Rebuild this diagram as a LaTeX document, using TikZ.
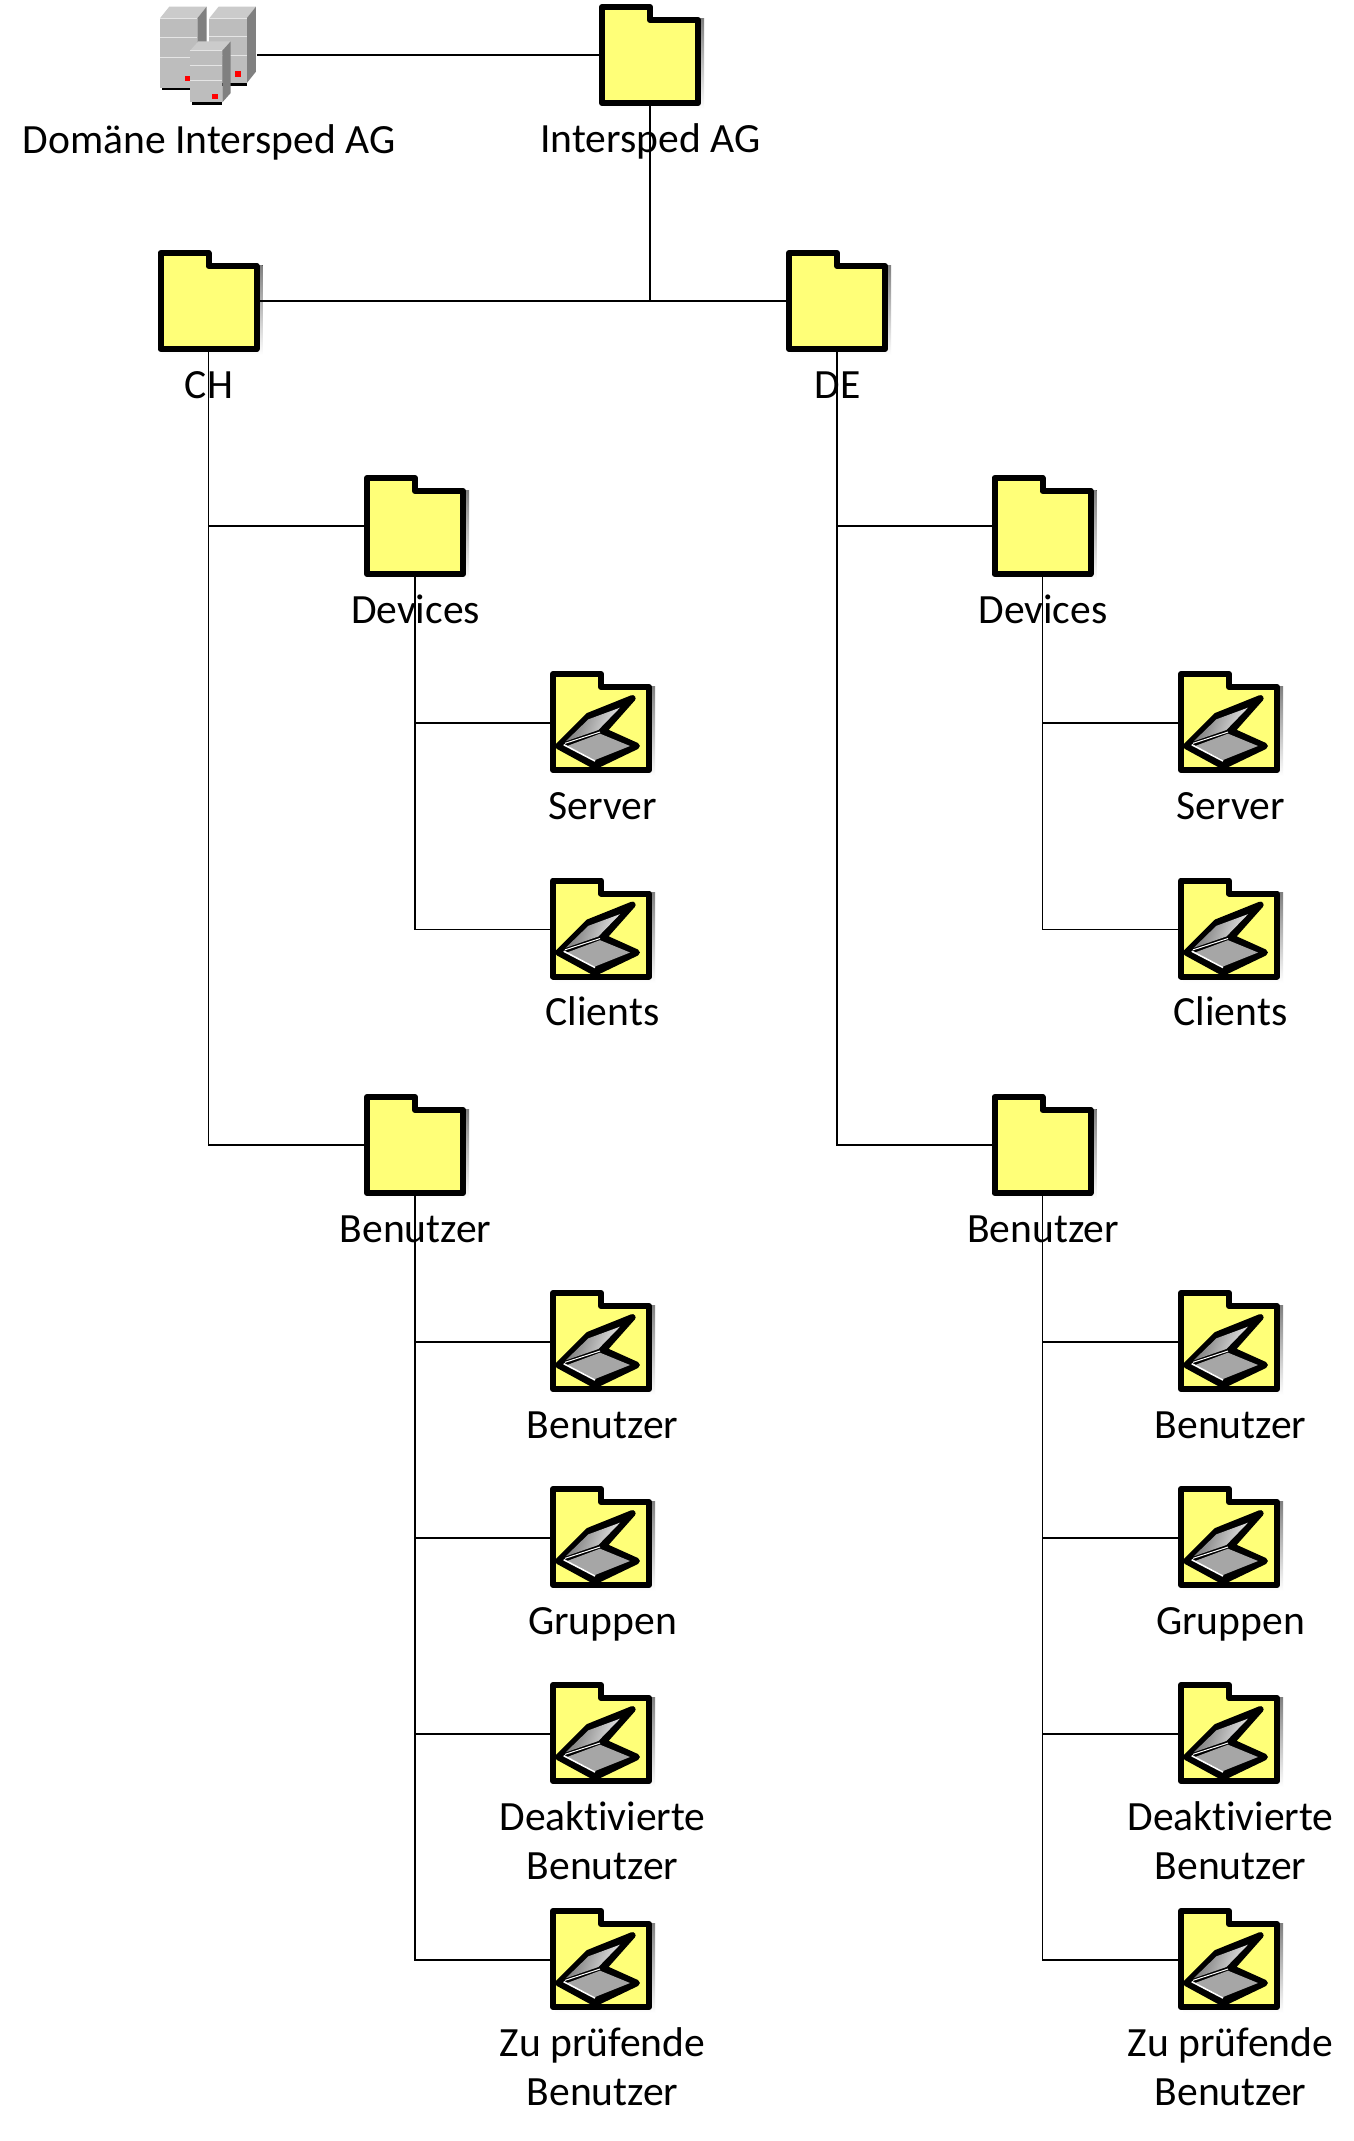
\documentclass[tikz,border=0pt]{standalone}
\usepackage{fontspec}
\setmainfont{Carlito}[RawFeature={-liga}]
\definecolor{fy}{HTML}{FFFF78}
\definecolor{shade}{HTML}{A8A8A8}
\definecolor{srvfront}{HTML}{BDBDBD}
\definecolor{srvtop}{HTML}{CBCBCB}
\definecolor{srvside}{HTML}{808080}
\definecolor{srvred}{HTML}{FF0000}
\tikzset{
  x=1pt,y=-1pt,
  conn/.style={draw=black,line width=1.7pt},
  spot/.style={minimum width=102pt,minimum height=102pt,inner sep=0pt,outer sep=0pt},
  srvspot/.style={minimum width=96pt,minimum height=103pt,inner sep=0pt,outer sep=0pt},
  lbl/.style={anchor=north,inner sep=0pt,outer sep=0pt,align=center,font=\fontsize{41.6}{49}\selectfont},
  folderpic/.pic={
    \fill[shade] (-46,-36) -- (54,-36) -- (54,54) -- (-46,54) -- cycle;
    \draw[fill=fy,line width=6pt,line join=round]
      (-48,-48) -- (0,-48) -- (0,-35) -- (48,-35) -- (48,48) -- (-48,48) -- cycle;
  },
  scanpic/.pic={
    \begin{scope}[shift={(-56,-56)},xscale=1/3,yscale=1/3]
      \draw[fill=black,line width=6.5pt,line join=round]
        (40,240) -- (150,300) -- (275,240) -- (175,195) -- (262,97) -- (130,150) -- cycle;
      \shade[left color=black!55,right color=black!8,shading angle=70]
        (62,226) -- (130,160) -- (225,125) -- (160,192) -- cycle;
      \fill[black!35] (66,240) -- (165,203) -- (255,240) -- (150,282) -- cycle;
      \draw[white,line width=1.6pt] (56,236) -- (150,285);
      \draw[white,line width=1pt] (60,232) -- (165,198);
    \end{scope}
  },
  serverbox/.pic={
    \begin{scope}[xscale=1/3,yscale=1/3]
      \fill[black] (7,\srvH-4) rectangle (\srvW,\srvH+7);
      \fill[srvtop] (0,0) -- (\srvD,-\srvR) -- (\srvW+\srvD,-\srvR) -- (\srvW,0) -- cycle;
      \fill[srvside] (\srvW,0) -- (\srvW+\srvD,-\srvR) -- (\srvW+\srvD,\srvH-\srvR) -- (\srvW,\srvH) -- cycle;
      \fill[srvfront] (0,0) rectangle (\srvW,\srvH);
      \draw[white!90!black,line width=1.2pt] (0,0) -- (\srvW,0);
      \draw[white!90!black,line width=1.2pt] (0,.28*\srvH) -- (\srvW,.28*\srvH);
      \draw[white!90!black,line width=1.2pt] (0,.57*\srvH) -- (\srvW,.57*\srvH);
      \fill[srvred] (\srvW-\srvRx,\srvH-\srvRy) rectangle ++(\srvRw,16);
    \end{scope}
  },
}
\newcommand\srvW{112}
\newcommand\srvH{210}
\newcommand\srvD{28}
\newcommand\srvR{35}
\newcommand\srvRx{36}
\newcommand\srvRy{36}
\newcommand\srvRw{20}
\newcommand\foldernode[4]{%
  \node[lbl] at (#2+.5,#3+63) {\strut #4};
  \pic at (#2,#3) {folderpic};
  \node[spot] (#1) at (#2,#3) {};
}
\newcommand\scannode[4]{%
  \node[lbl] at (#2+1.5,#3+62) {\strut #4};
  \pic at (#2,#3-1) {folderpic};
  \pic at (#2,#3-1) {scanpic};
  \node[spot] (#1) at (#2,#3) {};
}
\begin{document}
\begin{tikzpicture}
\useasboundingbox (0,0) rectangle (1354,2141);
\fill[white] (0,0) rectangle (1354,2141);
% domain servers
\renewcommand\srvH{195}
\pic at (209.3,18.3) {serverbox};
\renewcommand\srvH{208}
\pic at (160,18.3) {serverbox};
\renewcommand\srvW{97}\renewcommand\srvH{155}\renewcommand\srvD{25}\renewcommand\srvR{28}
\renewcommand\srvRx{31}\renewcommand\srvRy{26}\renewcommand\srvRw{18}
\pic at (190,50.7) {serverbox};
\node[srvspot] (dom) at (209,55) {};
\node[lbl] at (209,119) {\strut Domäne Intersped AG};
\foldernode{root}{650}{55}{Intersped AG}
\foldernode{ch}{208.5}{301}{CH}
\foldernode{de}{837}{301}{DE}
% CH
\foldernode{chdev}{415}{526}{Devices}
\scannode{chsrv}{601}{723}{Server}
\scannode{chcli}{601}{929.5}{Clients}
\foldernode{chben}{415}{1145}{Benutzer}
\scannode{chb}{601}{1342}{Benutzer}
\scannode{chg}{601}{1538}{Gruppen}
\scannode{chd}{601}{1734}{Deaktivierte\\Benutzer}
\scannode{chz}{601}{1960}{Zu prüfende\\Benutzer}
% DE
\foldernode{dedev}{1042.5}{526}{Devices}
\scannode{desrv}{1229}{723}{Server}
\scannode{decli}{1229}{929.5}{Clients}
\foldernode{deben}{1042.5}{1145}{Benutzer}
\scannode{deb}{1229}{1342}{Benutzer}
\scannode{deg}{1229}{1538}{Gruppen}
\scannode{ded}{1229}{1734}{Deaktivierte\\Benutzer}
\scannode{dez}{1229}{1960}{Zu prüfende\\Benutzer}
% connectors
\draw[conn] (dom.east) -- (root.west);
\draw[conn] (ch.east) -- (de.west);
\draw[conn] (root.south) -- (root.south |- ch.east);
\foreach \p/\c in {ch/chdev,ch/chben,de/dedev,de/deben,
  chdev/chsrv,chdev/chcli,dedev/desrv,dedev/decli,
  chben/chb,chben/chg,chben/chd,chben/chz,
  deben/deb,deben/deg,deben/ded,deben/dez}{
  \draw[conn] (\p.south) |- (\c.west);
}
\end{tikzpicture}
\end{document}
